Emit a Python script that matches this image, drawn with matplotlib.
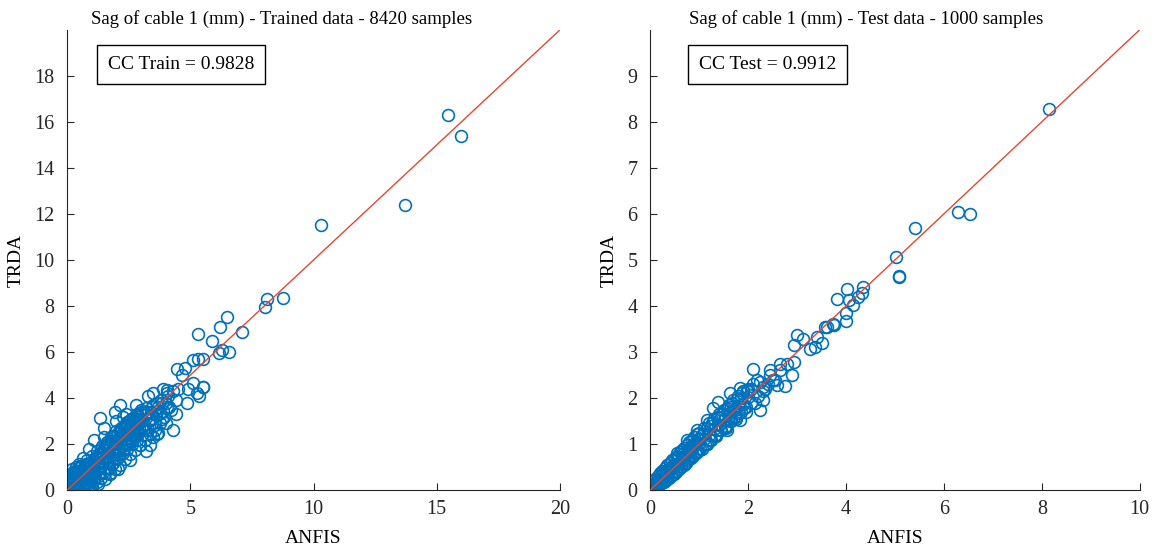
import matplotlib.pyplot as plt

# Sag of cable 1 (mm): ANFIS output vs TRDA
train_anfis = [
    0.02, 0.05, 0.10, 0.10, 0.15, 0.20, 0.25, 0.30, 0.35, 0.40, 0.45, 0.50, 0.55, 0.60,
    0.65, 0.70, 0.75, 0.80, 0.85, 0.90, 0.95, 1.00, 1.05, 1.10, 1.15, 1.20, 1.25, 1.30,
    1.35, 1.40, 1.45, 1.50, 1.55, 1.60, 1.65, 1.70, 1.75, 1.80, 1.85, 1.90, 1.95, 2.00,
    2.05, 2.10, 2.15, 2.20, 2.25, 2.30, 2.35, 2.40, 2.45, 2.50, 2.55, 2.60, 2.65, 2.70,
    2.75, 2.80, 2.85, 2.90, 2.95, 3.00, 3.05, 3.10, 3.15, 3.20, 3.30, 3.35, 3.40, 3.50,
    3.55, 3.60, 3.70, 3.80, 3.85, 3.90, 4.00, 4.10, 4.20, 4.30, 4.40, 4.50,
    0.00, 0.05, 0.10, 0.20, 0.15, 0.30, 0.35, 0.50, 0.40, 0.55, 0.60, 0.70, 0.75, 0.90,
    1.00, 1.10, 0.25, 0.45, 0.65, 0.80, 0.85, 1.20, 1.30, 1.40, 1.55, 1.70, 1.85, 2.00,
    2.15, 2.30, 2.45, 2.60, 2.75, 2.90, 3.05, 3.25, 3.45, 3.65, 0.30, 0.60, 0.95, 1.25,
    1.60, 1.95, 2.25, 2.55, 2.85, 3.15, 3.45, 3.75, 4.05,
    0.05, 0.12, 0.18, 0.22, 0.28, 0.33, 0.38, 0.42, 0.48, 0.52, 0.58, 0.62, 0.68, 0.72,
    0.78, 0.82, 0.88, 0.92, 0.98, 1.02, 1.08, 1.12, 1.18, 1.22, 1.28, 1.32, 1.38, 1.42,
    1.48, 1.52, 1.58, 1.62, 1.68, 1.72, 1.78, 1.82, 1.88, 1.92, 1.98, 2.02, 2.08, 2.12,
    2.18, 2.22, 2.28, 2.32, 2.38, 2.42, 2.48, 2.52, 2.58, 2.62, 2.68, 2.72, 2.78, 2.82,
    2.88, 2.92, 2.98, 3.02,
    0.30, 0.45, 0.60, 0.70, 0.85, 0.95, 1.05, 1.15, 1.25, 1.35, 1.45, 1.55, 1.65, 1.75,
    1.85, 1.95, 2.05, 2.15, 2.25, 2.35, 2.45, 2.55, 2.65, 2.75, 2.85, 2.95, 3.05, 3.15,
    3.25, 3.35, 3.45, 3.55, 3.65, 3.75, 3.85, 3.95, 4.05, 4.15, 2.00, 1.50,
    1.34, 1.50, 1.95, 2.15, 2.28, 2.40, 1.10, 0.90, 1.74, 2.08, 2.56, 2.96, 3.37, 3.64,
    3.20, 3.50, 3.70, 4.31, 4.00, 4.40, 4.86, 4.90, 3.90, 3.30, 2.80, 3.50, 4.04, 5.26,
    5.53, 4.45, 4.79, 4.65, 5.12, 5.50, 5.35, 0.66,
    5.30, 5.87, 6.20, 6.48, 7.09, 6.17, 6.57, 6.30, 5.53, 5.33, 5.12,
    8.03, 8.11, 8.76, 10.30, 13.71, 15.46, 15.98,
]
train_trda = [
    0.03, 0.10, 0.02, 0.30, 0.55, 0.10, 0.80, 0.35, 0.05, 0.60, 0.95, 0.25, 0.70, 1.10,
    0.05, 0.45, 0.90, 1.30, 0.20, 0.65, 1.05, 1.50, 0.40, 0.85, 1.25, 1.70, 0.60, 1.05,
    1.45, 1.90, 0.80, 1.25, 1.70, 2.10, 1.00, 1.45, 1.90, 2.30, 1.20, 1.65, 2.10, 2.55,
    1.40, 1.85, 2.30, 2.70, 1.60, 2.05, 2.50, 2.90, 1.80, 2.25, 2.70, 3.10, 2.00, 2.45,
    2.90, 3.25, 2.20, 2.65, 3.05, 3.40, 2.40, 2.85, 3.25, 3.55, 2.60, 3.05, 3.40, 3.70,
    2.85, 3.25, 3.60, 3.90, 3.10, 3.45, 3.80, 4.10, 3.50, 4.30, 3.90, 4.40,
    0.20, 0.45, 0.65, 0.90, 0.15, 0.70, 1.00, 1.15, 0.20, 0.40, 0.80, 0.20, 0.60, 0.30,
    0.90, 0.50, 0.45, 0.50, 0.85, 0.75, 1.15, 1.35, 1.55, 1.60, 1.95, 2.05, 2.35, 2.20,
    2.55, 2.75, 2.95, 2.55, 3.05, 3.20, 3.00, 3.30, 3.60, 3.80, 0.10, 0.35, 0.55, 0.95,
    1.40, 1.85, 1.90, 2.40, 2.50, 2.70, 2.90, 3.35, 3.55,
    0.25, 0.05, 0.40, 0.75, 0.15, 0.50, 0.85, 0.30, 0.65, 1.00, 0.45, 0.20, 0.95, 0.60,
    1.15, 0.35, 0.80, 1.20, 0.55, 0.15, 1.05, 0.70, 1.45, 0.35, 0.95, 1.60, 0.55, 1.20,
    1.80, 0.75, 1.40, 2.00, 0.95, 1.60, 2.15, 1.15, 1.80, 2.35, 1.35, 2.00, 2.50, 1.55,
    2.20, 2.65, 1.75, 2.40, 2.85, 1.95, 2.60, 3.00, 2.15, 2.80, 3.15, 2.35, 2.95, 3.30,
    2.50, 3.10, 3.50, 2.70,
    0.55, 0.10, 0.35, 1.00, 0.50, 0.10, 0.65, 1.40, 0.25, 0.80, 1.60, 0.50, 1.25, 0.70,
    1.55, 0.90, 1.75, 1.10, 2.50, 1.35, 2.05, 1.55, 2.40, 1.75, 2.60, 1.95, 2.75, 2.20,
    3.40, 2.45, 3.15, 2.60, 3.45, 2.90, 3.80, 3.20, 4.20, 3.60, 3.00, 2.30,
    3.14, 2.70, 3.40, 3.70, 3.19, 3.30, 2.20, 1.80, 0.73, 0.94, 1.30, 1.96, 1.96, 2.46,
    1.70, 2.30, 2.50, 2.61, 2.90, 3.30, 3.77, 4.40, 4.40, 4.10, 3.70, 4.20, 4.35, 4.20,
    4.49, 5.26, 5.29, 5.00, 4.64, 4.47, 4.10, 1.38,
    6.77, 6.47, 7.10, 7.51, 6.86, 5.94, 6.01, 6.09, 5.72, 5.68, 5.65,
    7.96, 8.30, 8.35, 11.52, 12.39, 16.30, 15.39,
]

test_anfis = [
    0.00, 0.02, 0.04, 0.05, 0.08, 0.10, 0.12, 0.15, 0.18, 0.20, 0.22, 0.25, 0.28, 0.30,
    0.33, 0.35, 0.38, 0.40, 0.43, 0.45, 0.48, 0.50, 0.53, 0.55, 0.58, 0.60, 0.63, 0.65,
    0.68, 0.70, 0.73, 0.75, 0.78, 0.80, 0.83, 0.85, 0.88, 0.90, 0.93, 0.95, 0.98, 1.00,
    1.05, 1.10, 1.15, 1.20, 1.25, 1.30, 1.35, 1.40, 1.45, 1.50, 1.55, 1.60, 1.65, 1.70,
    1.75, 1.80, 1.85, 1.90, 1.95, 2.00, 2.05, 2.10, 2.20, 2.30, 2.40, 2.50,
    0.10, 0.20, 0.30, 0.40, 0.50, 0.60, 0.70, 0.80, 0.90, 1.00, 1.10, 1.20, 1.30, 1.40,
    1.50, 1.60, 1.70, 1.80, 1.90, 2.00,
    0.03, 0.07, 0.12, 0.17, 0.22, 0.27, 0.32, 0.37, 0.42, 0.47, 0.52, 0.57, 0.62, 0.67,
    0.72, 0.77, 0.82, 0.87, 0.92, 0.97, 1.02, 1.07, 1.12, 1.17, 1.22, 1.27, 1.32, 1.37,
    1.42, 1.47, 1.52, 1.57, 1.62, 1.67, 1.72, 1.77, 1.82, 1.87, 1.92, 1.97,
    0.15, 0.25, 0.35, 0.45, 0.55, 0.65, 0.75, 0.85, 0.95, 1.05, 1.15, 1.25, 1.35, 1.45,
    1.55, 1.65, 1.75, 1.85, 1.95, 2.05, 2.15, 2.25, 2.35, 2.45, 2.55, 2.65, 0.05, 0.15,
    0.25, 0.35,
    0.95, 0.75, 0.54, 0.82, 1.22, 1.36, 1.16, 1.56, 1.63, 1.84, 1.29, 1.39, 1.63, 1.84,
    1.97, 2.31, 2.24, 2.11, 2.18, 2.45, 2.59, 2.76, 2.79, 2.93, 2.89, 2.65, 2.31,
    2.99, 2.93, 3.13, 3.40, 3.50, 3.37, 3.57, 3.27, 3.61, 3.73, 3.76, 4.01, 4.01,
    3.82, 4.07, 4.25, 4.32, 4.14, 4.03, 4.34,
    5.03, 5.09, 5.09, 5.42, 6.29, 6.54, 8.14,
]
test_trda = [
    0.02, 0.10, 0.00, 0.20, 0.05, 0.25, 0.08, 0.30, 0.12, 0.38, 0.15, 0.42, 0.18, 0.48,
    0.22, 0.55, 0.26, 0.58, 0.30, 0.65, 0.35, 0.70, 0.40, 0.75, 0.45, 0.82, 0.50, 0.88,
    0.55, 0.92, 0.60, 0.98, 0.65, 1.05, 0.70, 1.10, 0.75, 1.15, 0.80, 1.22, 0.85, 1.25,
    0.90, 1.35, 1.00, 1.45, 1.10, 1.55, 1.20, 1.65, 1.30, 1.75, 1.40, 1.85, 1.50, 1.95,
    1.60, 2.05, 1.70, 2.15, 1.80, 2.20, 1.90, 2.30, 2.05, 2.15, 2.30, 2.40,
    0.15, 0.22, 0.35, 0.45, 0.55, 0.62, 0.72, 0.85, 0.95, 1.02, 1.12, 1.20, 1.32, 1.42,
    1.52, 1.62, 1.72, 1.82, 1.88, 2.02,
    0.06, 0.15, 0.05, 0.24, 0.16, 0.35, 0.22, 0.45, 0.33, 0.55, 0.42, 0.68, 0.52, 0.78,
    0.60, 0.90, 0.70, 1.00, 0.80, 1.12, 0.90, 1.22, 1.00, 1.35, 1.08, 1.45, 1.20, 1.58,
    1.30, 1.65, 1.38, 1.78, 1.50, 1.90, 1.58, 1.98, 1.68, 2.10, 1.78, 2.15,
    0.20, 0.35, 0.28, 0.50, 0.48, 0.72, 0.65, 0.95, 0.82, 1.20, 1.00, 1.40, 1.18, 1.60,
    1.35, 1.80, 1.55, 2.00, 1.70, 2.20, 1.90, 2.35, 2.20, 2.50, 2.40, 2.60, 0.12, 0.08,
    0.18, 0.40,
    1.30, 1.09, 0.80, 0.90, 1.09, 1.30, 1.52, 1.30, 1.67, 1.52, 1.78, 1.92, 2.10, 2.21,
    2.17, 1.96, 1.74, 2.64, 2.39, 2.61, 2.28, 2.26, 2.75, 2.79, 2.50, 2.75, 2.25,
    3.37, 3.15, 3.28, 3.33, 3.19, 3.11, 3.55, 3.06, 3.55, 3.60, 3.59, 3.68, 3.84,
    4.15, 4.13, 4.20, 4.28, 4.02, 4.36, 4.42,
    5.07, 4.65, 4.63, 5.70, 6.05, 6.00, 8.28,
]

panels = [
    (train_anfis, train_trda, 20, list(range(0, 21, 5)), list(range(0, 19, 2)),
     'Sag of cable 1 (mm) - Trained data - 8420 samples', 'CC Train = 0.9828'),
    (test_anfis, test_trda, 10, list(range(0, 11, 2)), list(range(0, 10, 1)),
     'Sag of cable 1 (mm) - Test data - 1000 samples', 'CC Test = 0.9912'),
]

plt.rcParams['font.family'] = ['Liberation Serif', 'DejaVu Serif']

fig = plt.figure(figsize=(11.57, 5.52), dpi=100)
boxes = [[0.058, 0.112, 0.426, 0.834], [0.562, 0.112, 0.423, 0.834]]
box_x = [0.082, 0.099]
title_x = [0.436, 0.441]

for i, (x, y, lim, xt, yt, title, cc) in enumerate(panels):
    ax = fig.add_axes(boxes[i])
    ax.plot([0, lim], [0, lim], color='#E8462F', lw=1.0, zorder=3)
    ax.plot(x, y, 'o', mfc='none', mec='#0072BD', ms=8.5, mew=1.2, zorder=2)
    ax.set_xlim(0, lim)
    ax.set_ylim(0, lim)
    ax.set_xticks(xt)
    ax.set_yticks(yt)
    ax.spines['top'].set_visible(False)
    ax.spines['right'].set_visible(False)
    for s in ('left', 'bottom'):
        ax.spines[s].set_color('#262626')
    ax.tick_params(direction='in', length=5, colors='#262626', labelsize=14.5)
    ax.tick_params(axis='x', pad=7)
    ax.tick_params(axis='y', pad=9)
    ax.set_xlabel('ANFIS', fontsize=14, labelpad=8)
    ax.set_ylabel('TRDA', fontsize=14, labelpad=7)
    ax.set_title(title, fontsize=13.5, pad=4, x=title_x[i])
    ax.text(box_x[i], 0.925, cc, transform=ax.transAxes, fontsize=14, va='center', ha='left',
            bbox=dict(boxstyle='square,pad=0.55', fc='white', ec='black', lw=1.0))

fig.savefig('out.png', dpi=100)
